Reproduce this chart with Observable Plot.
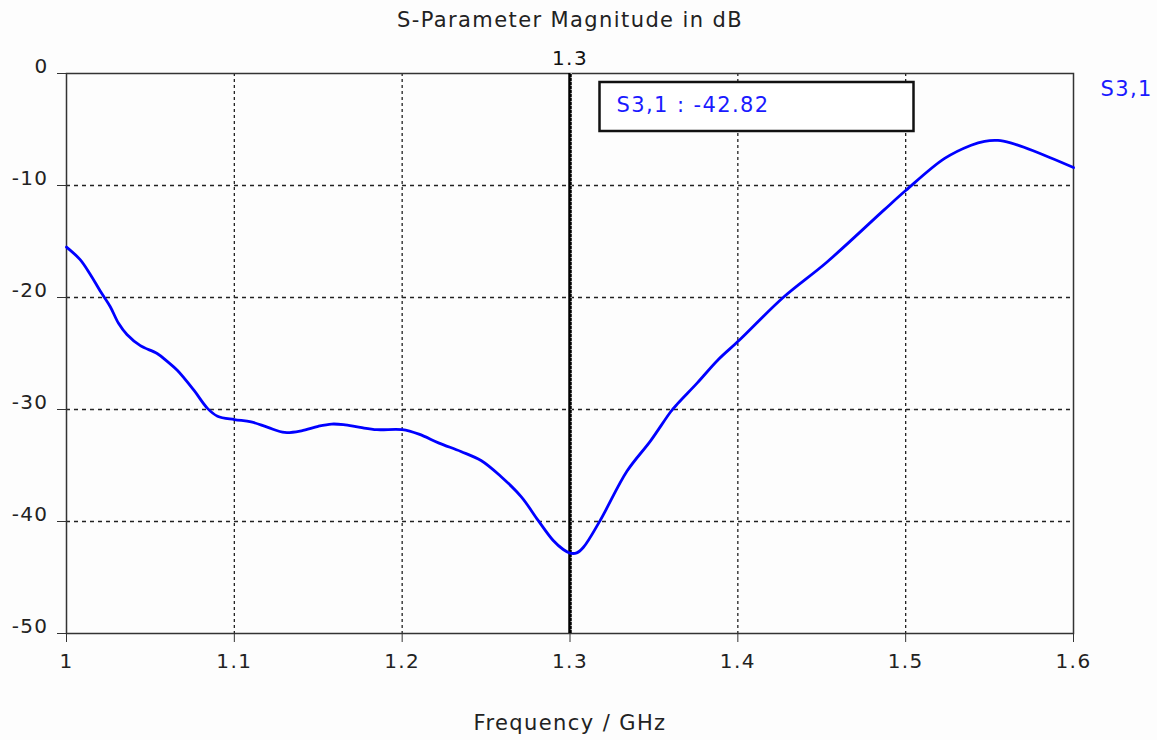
<!DOCTYPE html>
<html>
<head>
<meta charset="utf-8">
<script src="https://cdn.jsdelivr.net/npm/d3@7"></script>
<script src="https://cdn.jsdelivr.net/npm/@observablehq/plot@0.6"></script>
<style>
  html, body { margin: 0; padding: 0; background: #fdfdfd; }
  #chart svg text { letter-spacing: 1.4px; }
</style>
</head>
<body>
<div id="chart"></div>
<script>
const title = "S-Parameter Magnitude in dB";
const xLabel = "Frequency / GHz";
const seriesName = "S3,1";
const xTicks = [1, 1.1, 1.2, 1.3, 1.4, 1.5, 1.6];
const yTicks = [0, -10, -20, -30, -40, -50];
const markerFreq = [1.3];
const markerValue = "-42.82";

const freq = [1.000, 1.008, 1.014, 1.020, 1.026, 1.031, 1.036, 1.044, 1.054, 1.060,
  1.066, 1.076, 1.084, 1.090, 1.100, 1.110, 1.120, 1.130, 1.140, 1.150,
  1.158, 1.165, 1.175, 1.185, 1.200, 1.210, 1.222, 1.235, 1.247, 1.259,
  1.271, 1.281, 1.290, 1.296, 1.300, 1.304, 1.308, 1.318, 1.334, 1.348,
  1.360, 1.364, 1.376, 1.388, 1.401, 1.427, 1.453, 1.487, 1.500, 1.523,
  1.539, 1.547, 1.555, 1.5625, 1.576, 1.600];
const s31 = [-15.5, -16.6, -17.9, -19.4, -20.8, -22.3, -23.3, -24.3, -25.0, -25.7,
  -26.5, -28.3, -29.9, -30.6, -30.9, -31.1, -31.6, -32.05, -31.9, -31.5,
  -31.3, -31.35, -31.6, -31.8, -31.8, -32.2, -33.0, -33.75, -34.55, -36.0,
  -37.8, -39.9, -41.7, -42.5, -42.82, -42.8, -42.3, -39.9, -35.5, -32.8,
  -30.2, -29.5, -27.6, -25.6, -23.8, -20.0, -16.85, -12.2, -10.45, -7.6,
  -6.4, -6.05, -5.98, -6.2, -6.9, -8.4];

const data = freq.map((f, i) => ({f, db: s31[i]}));

const markerBox = (index, scales, values, dimensions) => {
  const g = d3.create("svg:g");
  const x0 = scales.x(markerFreq[0]) + 30;
  const y0 = dimensions.marginTop + 9;
  g.append("rect")
    .attr("x", x0).attr("y", y0).attr("width", 314).attr("height", 49)
    .attr("fill", "white").attr("stroke", "#111").attr("stroke-width", 2.5);
  g.append("text")
    .attr("x", x0 + 17).attr("y", y0 + 24)
    .attr("text-anchor", "start")
    .attr("dominant-baseline", "middle")
    .attr("fill", "#1a1aff").attr("font-size", 21)
    .text(`${seriesName} : ${markerValue}`);
  return g.node();
};

const chart = Plot.plot({
  width: 1157,
  height: 740,
  marginTop: 73,
  marginBottom: 107,
  marginLeft: 66,
  marginRight: 84,
  style: {fontFamily: "DejaVu Sans", fontSize: "20px", color: "#222", background: "#fdfdfd"},
  x: {domain: [1, 1.6]},
  y: {domain: [-50, 0]},
  marks: [
    Plot.gridX(xTicks.slice(1, -1), {stroke: "#222", strokeOpacity: 1, strokeWidth: 1.3, strokeDasharray: "3,3"}),
    Plot.gridY(yTicks.slice(1, -1), {stroke: "#222", strokeOpacity: 1, strokeWidth: 1.3, strokeDasharray: "4,4"}),
    Plot.axisX(xTicks, {tickSize: 9, tickPadding: 11, label: null, tickFormat: d => String(d), stroke: "#333"}),
    Plot.axisY(yTicks, {tickSize: 9, tickFormat: () => "", label: null, stroke: "#333"}),
    Plot.axisY(yTicks, {tickSize: 0, tickPadding: 18, dy: -7, label: null, tickFormat: d => String(d)}),
    Plot.frame({stroke: "#333", strokeWidth: 1.5}),
    Plot.ruleX(markerFreq, {stroke: "black", strokeWidth: 3.5}),
    Plot.ruleX(markerFreq, {stroke: "white", strokeWidth: 1, dx: 1.2, strokeDasharray: "1,3"}),
    Plot.text(markerFreq, {x: d => d, frameAnchor: "top", lineAnchor: "middle", dy: -15, text: d => String(d), fill: "#111"}),
    Plot.line(data, {x: "f", y: "db", stroke: "#0000ff", strokeWidth: 2.8, curve: "catmull-rom"}),
    markerBox,
    Plot.text([seriesName], {frameAnchor: "top-right", lineAnchor: "middle", dx: 27, dy: 16, textAnchor: "start", fill: "#1a1aff", fontSize: 21, text: d => d}),
    Plot.text([title], {frameAnchor: "top", lineAnchor: "middle", dy: -53, fontSize: 21, text: d => d, fill: "#222"}),
    Plot.text([xLabel], {frameAnchor: "bottom", lineAnchor: "middle", dy: 90, fontSize: 21, text: d => d, fill: "#222"})
  ]
});
document.getElementById("chart").append(chart);
</script>
</body>
</html>
